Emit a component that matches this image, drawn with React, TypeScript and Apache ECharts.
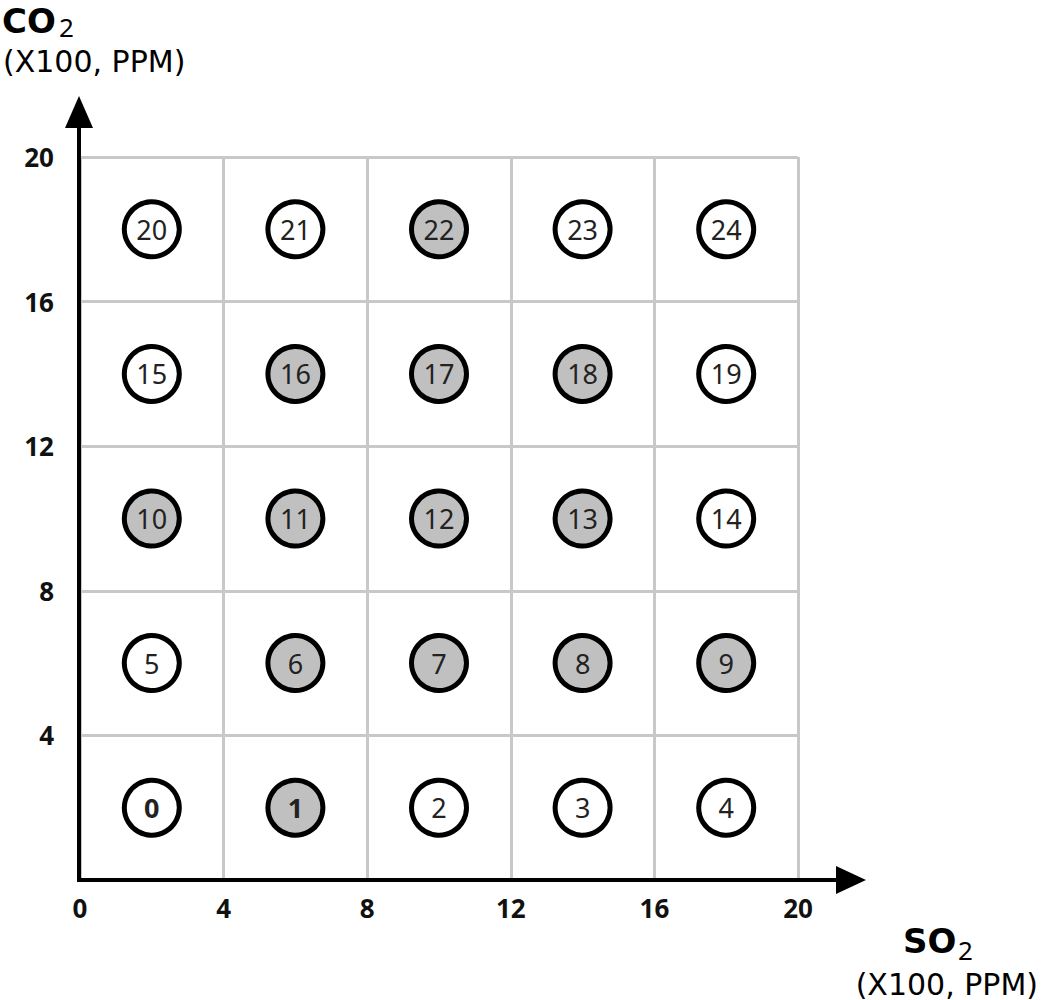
import React, { useEffect, useRef } from "react";
import * as echarts from "echarts";

const xTicks = [0, 4, 8, 12, 16, 20];
const yTicks = [0, 4, 8, 12, 16, 20];
const pointIds = [0, 1, 2, 3, 4, 5, 6, 7, 8, 9, 10, 11, 12, 13, 14, 15, 16, 17, 18, 19, 20, 21, 22, 23, 24];
const pointX = [2, 6, 10, 14, 18, 2, 6, 10, 14, 18, 2, 6, 10, 14, 18, 2, 6, 10, 14, 18, 2, 6, 10, 14, 18];
const pointY = [2, 2, 2, 2, 2, 6, 6, 6, 6, 6, 10, 10, 10, 10, 10, 14, 14, 14, 14, 14, 18, 18, 18, 18, 18];
const shadedIds = [1, 6, 7, 8, 9, 10, 11, 12, 13, 16, 17, 18, 22];
const boldIds = [0, 1];

const FONT = "Noto Sans";
const WIDE = "DejaVu Sans";

export default function App() {
  const ref = useRef<HTMLDivElement>(null);
  useEffect(() => {
    document.body.style.margin = "0";
    const chart = echarts.init(ref.current!, null, { renderer: "svg" });
    const gl = 80, gt = 157, gw = 718, gh = 723;
    const data = pointIds.map((id, i) => ({
      value: [pointX[i], pointY[i]],
      name: String(id),
      itemStyle: { color: shadedIds.includes(id) ? "#c0c0c0" : "#ffffff" },
      label: { fontWeight: boldIds.includes(id) ? "bold" : "normal" },
    }));
    const txt = (text: string, x: number, y: number, fontSize: number, fontWeight: string, family: string, align = "left") => ({
      type: "text",
      x,
      y,
      z: 20,
      style: {
        text, fontSize, fontWeight, fontFamily: family, fill: "#000",
        textAlign: align, textVerticalAlign: "middle", lineHeight: Math.round(fontSize * 0.9),
      },
    });
    chart.setOption({
      animation: false,
      backgroundColor: "#ffffff",
      grid: { left: gl, top: gt, width: gw, height: gh },
      xAxis: {
        type: "value",
        min: 0,
        max: 20,
        interval: 4,
        axisLine: { show: false },
        axisTick: { show: false },
        splitLine: { show: true, lineStyle: { color: "#c8c8c8", width: 3 } },
        axisLabel: {
          fontFamily: FONT, fontSize: 26, fontWeight: "bold", color: "#111", margin: 15,
          formatter: (v: number) => (xTicks.includes(v) ? String(v) : ""),
        },
      },
      yAxis: {
        type: "value",
        min: 0,
        max: 20,
        interval: 4,
        axisLine: { show: false },
        axisTick: { show: false },
        splitLine: { show: true, lineStyle: { color: "#c8c8c8", width: 3 } },
        axisLabel: {
          fontFamily: FONT, fontSize: 26, fontWeight: "bold", color: "#111", margin: 26,
          formatter: (v: number) => (yTicks.includes(v) && v !== 0 ? String(v) : ""),
        },
      },
      series: [
        {
          type: "scatter",
          symbol: "circle",
          symbolSize: 55,
          itemStyle: { borderColor: "#000", borderWidth: 5, opacity: 1 },
          label: {
            show: true,
            position: "inside",
            formatter: (p: any) => p.name,
            fontFamily: FONT,
            fontSize: 27,
            color: "#222",
          },
          data,
        },
      ],
      graphic: [
        { type: "line", shape: { x1: 79, y1: 882, x2: 79, y2: 115 }, style: { stroke: "#000", lineWidth: 4 }, z: 10 },
        { type: "polygon", shape: { points: [[79, 96], [65, 128], [93, 128]] }, style: { fill: "#000" }, z: 10 },
        { type: "line", shape: { x1: 77, y1: 880, x2: 845, y2: 880 }, style: { stroke: "#000", lineWidth: 4 }, z: 10 },
        { type: "polygon", shape: { points: [[866, 880], [836, 866], [836, 894]] }, style: { fill: "#000" }, z: 10 },
        txt("CO", 2, 21, 34, "bold", WIDE),
        txt("2", 59, 27, 26, "normal", FONT),
        txt("(X100, PPM)", 3, 61, 30, "normal", WIDE),
        txt("SO", 903, 941, 34, "bold", WIDE),
        txt("2", 958, 950, 26, "normal", FONT),
        txt("(X100, PPM)", 1038, 984, 30, "normal", WIDE, "right"),
      ],
    });
    return () => chart.dispose();
  }, []);
  return <div ref={ref} style={{ width: 1042, height: 1000 }} />;
}
